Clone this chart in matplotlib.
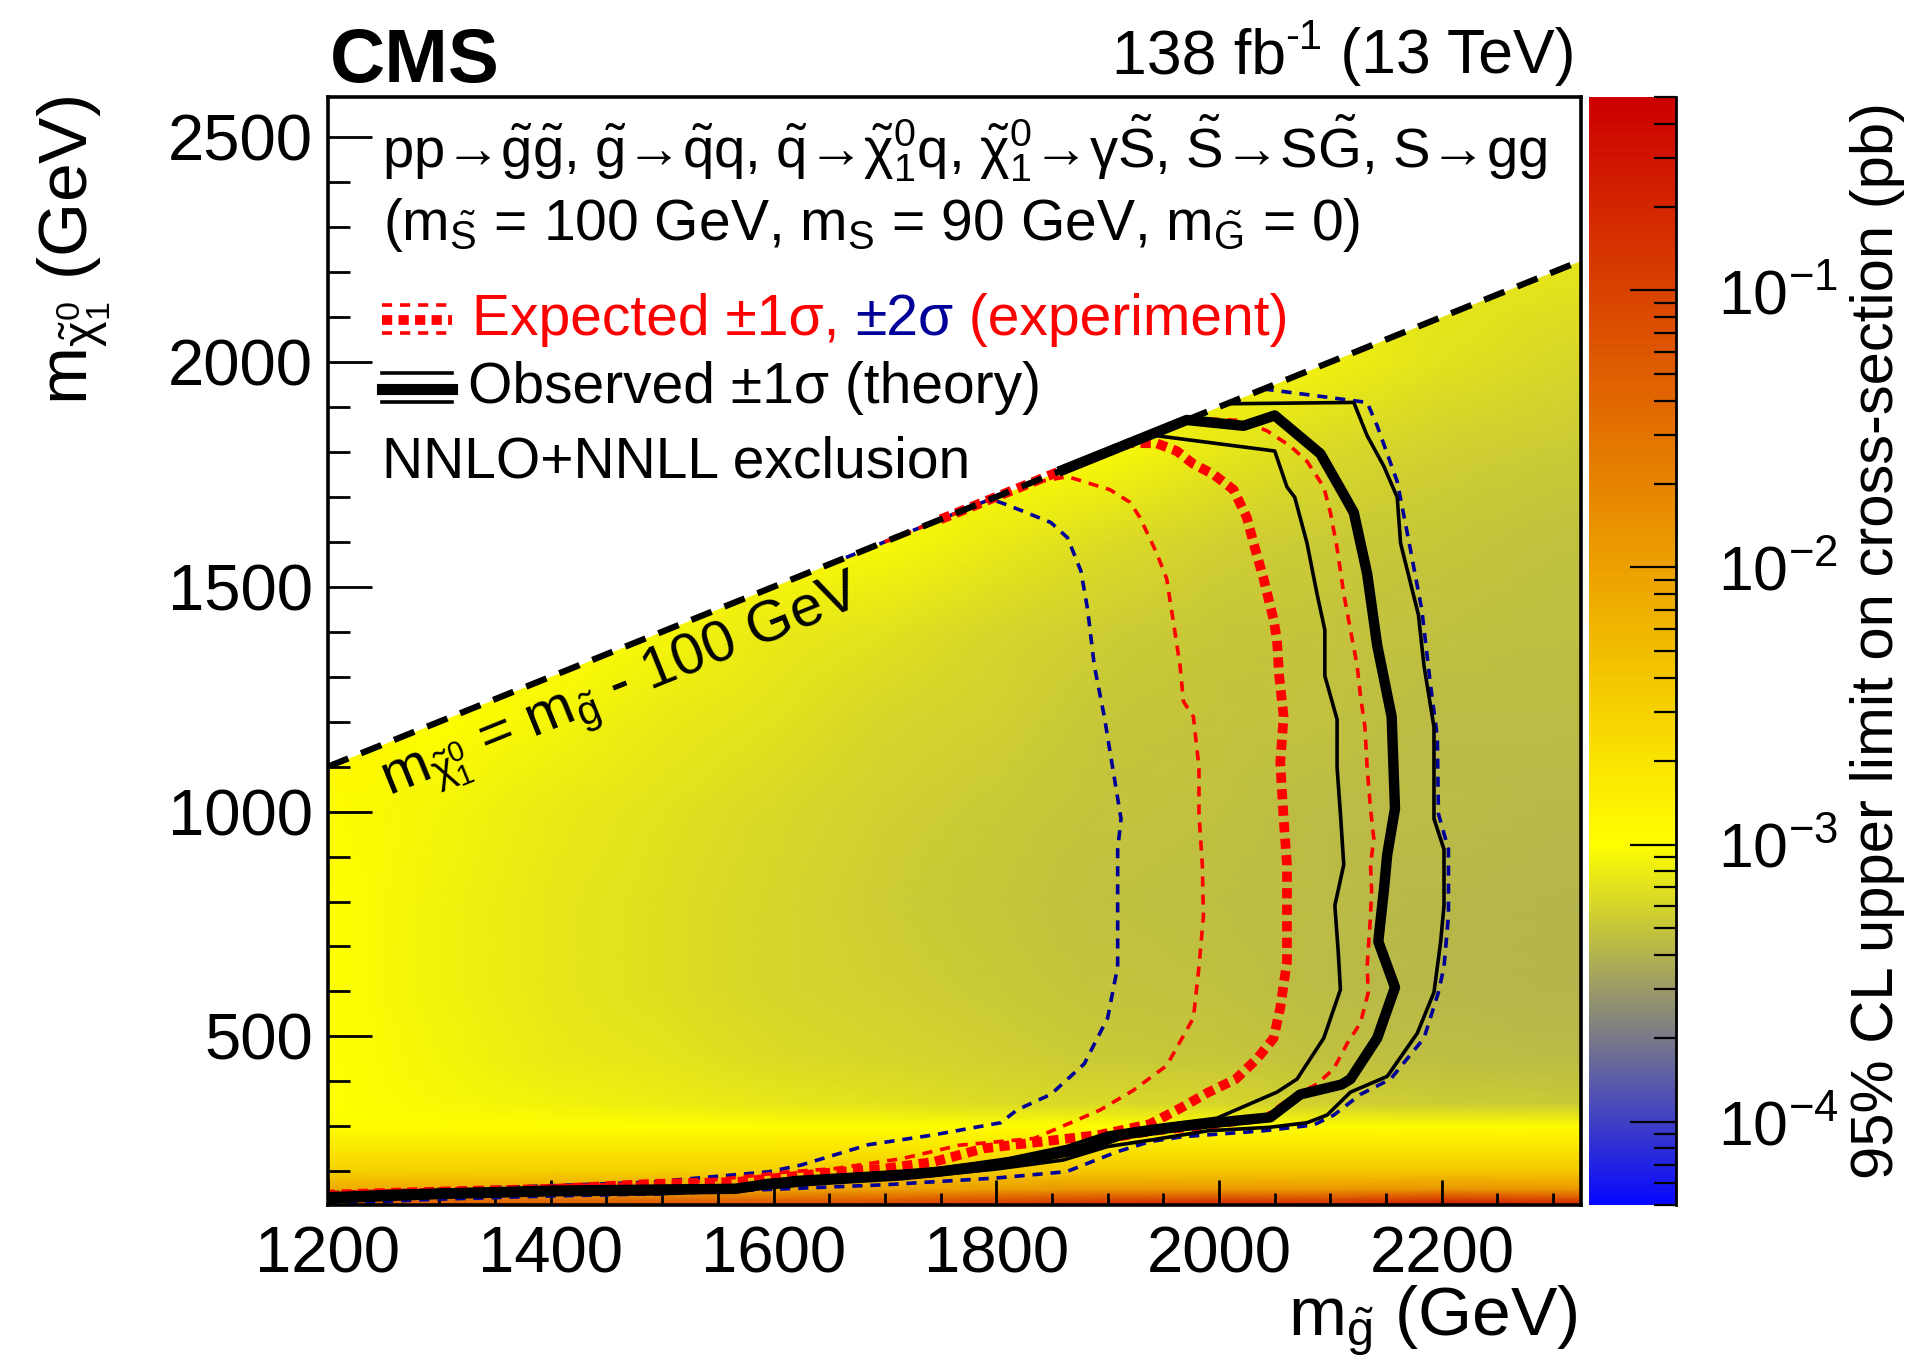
import numpy as np
import matplotlib
matplotlib.use("Agg")
import matplotlib.pyplot as plt
from matplotlib.colors import LinearSegmentedColormap, LogNorm
from matplotlib.patches import Polygon
from matplotlib.lines import Line2D
from matplotlib.ticker import MultipleLocator, LogLocator, NullFormatter

plt.rcParams['font.family'] = ['Liberation Sans', 'DejaVu Sans']
plt.rcParams['mathtext.fontset'] = 'custom'
plt.rcParams['mathtext.rm'] = 'Liberation Sans'
plt.rcParams['mathtext.it'] = 'Liberation Sans'
plt.rcParams['mathtext.sf'] = 'Liberation Sans'
plt.rcParams['mathtext.bf'] = 'Liberation Sans:bold'

W, H = 1917, 1365

def fx(px):
    return px / W

def fy(py):
    return 1 - py / H

# --- axis ranges (GeV) ---
mgl_range = (1200, 2325)
mchi_range = (125, 2590)
dm = 100  # m_chi = m_gluino - 100 GeV

# --- limit map: log10(95% CL upper limit / pb) on a coarse grid ---
mgl_grid = [1200, 1300, 1400, 1500, 1600, 1700, 1800, 1900, 2000, 2100, 2200, 2325]
mchi_grid = [125, 140, 160, 200, 250, 300, 350, 450, 600, 800, 1000, 1200, 1400, 1600, 1800, 2000, 2250]
log_limit = [
    [-1.20, -1.20, -1.20, -1.15, -1.10, -1.00, -0.90, -0.75, -0.70, -0.80, -0.55, -0.75],
    [-1.60, -1.60, -1.60, -1.55, -1.50, -1.40, -1.30, -1.20, -1.15, -1.20, -1.05, -1.20],
    [-2.10, -2.10, -2.10, -2.05, -2.05, -2.00, -1.95, -1.90, -1.90, -1.90, -1.85, -1.90],
    [-2.50, -2.50, -2.50, -2.50, -2.50, -2.45, -2.45, -2.40, -2.40, -2.40, -2.40, -2.40],
    [-2.75, -2.75, -2.75, -2.75, -2.75, -2.72, -2.72, -2.70, -2.70, -2.70, -2.70, -2.70],
    [-2.98, -2.98, -2.98, -2.98, -2.98, -2.98, -2.98, -2.98, -2.98, -2.98, -2.98, -2.98],
    [-3.00, -3.03, -3.06, -3.09, -3.12, -3.15, -3.18, -3.20, -3.22, -3.24, -3.26, -3.28],
    [-3.00, -3.05, -3.10, -3.14, -3.18, -3.22, -3.25, -3.28, -3.30, -3.32, -3.34, -3.36],
    [-3.00, -3.06, -3.12, -3.17, -3.21, -3.25, -3.28, -3.31, -3.33, -3.35, -3.37, -3.38],
    [-3.00, -3.06, -3.12, -3.17, -3.22, -3.26, -3.29, -3.32, -3.34, -3.36, -3.37, -3.38],
    [-2.97, -3.04, -3.10, -3.15, -3.20, -3.24, -3.28, -3.31, -3.33, -3.35, -3.36, -3.37],
    [-2.90, -2.98, -3.05, -3.11, -3.16, -3.21, -3.25, -3.29, -3.31, -3.33, -3.35, -3.36],
    [-2.90, -2.95, -3.00, -3.04, -3.10, -3.16, -3.21, -3.26, -3.29, -3.31, -3.33, -3.34],
    [-2.95, -2.95, -2.95, -2.95, -2.98, -3.02, -3.10, -3.18, -3.24, -3.27, -3.30, -3.32],
    [-3.00, -3.00, -3.00, -3.00, -3.00, -3.00, -3.00, -3.02, -3.12, -3.20, -3.25, -3.28],
    [-3.05, -3.05, -3.05, -3.05, -3.05, -3.05, -3.05, -3.05, -3.05, -3.08, -3.15, -3.22],
    [-3.10, -3.10, -3.10, -3.10, -3.10, -3.10, -3.10, -3.10, -3.10, -3.10, -3.10, -3.12],
]

# --- exclusion contours (m_gluino, m_chi) ---
obs_x = [1860, 1920, 1971, 2022, 2050, 2091, 2112, 2121, 2133, 2142, 2155, 2158, 2151, 2148, 2143, 2158, 2142,
         2118, 2110, 2073, 2046, 1993, 1967, 1912, 1878, 1848, 1796, 1744, 1715, 1640, 1595, 1566, 1402, 1342,
         1253, 1200]
obs_y = [1760, 1820, 1871, 1858, 1881, 1796, 1705, 1665, 1529, 1370, 1211, 1007, 904, 825, 711, 609, 496,
         405, 393, 371, 320, 307, 300, 281, 251, 236, 213, 198, 191, 180, 172, 161, 157, 153, 147, 140]

obs_lo_x = [1938, 1947, 2050, 2061, 2068, 2079, 2088, 2095, 2095, 2106, 2106, 2109, 2112, 2104, 2107, 2109, 2094,
            2070, 2052, 1998, 1940, 1900, 1863, 1811, 1745, 1690, 1620, 1565, 1400, 1300, 1200]
obs_lo_y = [1838, 1835, 1802, 1722, 1699, 1597, 1484, 1404, 1302, 1205, 1098, 995, 882, 791, 689, 604, 496,
            405, 376, 318, 300, 285, 255, 228, 205, 196, 186, 168, 163, 158, 150]

obs_hi_x = [2007, 2121, 2133, 2148, 2160, 2163, 2179, 2184, 2193, 2193, 2202, 2202, 2199, 2193, 2178, 2151, 2118,
            2097, 2079, 2046, 1990, 1940, 1900, 1860, 1800, 1740, 1650, 1580, 1500, 1400, 1300, 1200]
obs_hi_y = [1907, 1910, 1836, 1768, 1699, 1597, 1438, 1325, 1188, 984, 916, 791, 711, 598, 507, 411, 376,
            325, 308, 298, 290, 270, 255, 225, 205, 190, 175, 160, 150, 148, 142, 132]

exp_x = [1750, 1800, 1860, 1920, 1944, 1962, 1977, 1995, 2013, 2025, 2031, 2040, 2049, 2052, 2054, 2058, 2055,
         2058, 2061, 2061, 2061, 2055, 2049, 2034, 2015, 1990, 1965, 1938, 1893, 1841, 1789, 1744, 1700, 1655,
         1610, 1566, 1491, 1402, 1268, 1200]
exp_y = [1650, 1700, 1760, 1820, 1819, 1802, 1773, 1750, 1716, 1654, 1597, 1518, 1427, 1382, 1302, 1211, 1109,
         984, 882, 768, 666, 564, 496, 450, 405, 375, 340, 305, 281, 266, 251, 221, 206, 198, 187, 176, 172,
         161, 153, 148]

exp_lo_x = [1700, 1830, 1864, 1902, 1920, 1929, 1944, 1953, 1958, 1965, 1968, 1977, 1982, 1982, 1985, 1986, 1982,
            1977, 1953, 1923, 1893, 1834, 1767, 1715, 1655, 1610, 1528, 1417, 1268, 1200]
exp_lo_y = [1600, 1730, 1745, 1716, 1688, 1654, 1575, 1518, 1438, 1325, 1245, 1211, 1098, 995, 882, 768, 655,
            541, 435, 380, 336, 273, 258, 228, 206, 198, 176, 168, 157, 152]

exp_hi_x = [1975, 2019, 2043, 2064, 2079, 2094, 2100, 2106, 2112, 2118, 2124, 2127, 2131, 2133, 2136, 2139, 2136,
            2137, 2136, 2133, 2134, 2127, 2115, 2103, 2088, 2064, 2034, 1990, 1940, 1890, 1840, 1790, 1730, 1660,
            1590, 1500, 1400, 1300, 1200]
exp_hi_y = [1875, 1870, 1847, 1813, 1779, 1722, 1665, 1586, 1484, 1404, 1325, 1257, 1188, 1098, 1007, 939, 882,
            825, 768, 655, 598, 530, 484, 428, 394, 363, 311, 296, 283, 262, 230, 210, 195, 183, 170, 160, 155,
            150, 145]

exp2_lo_x = [1650, 1795, 1810, 1849, 1864, 1876, 1882, 1888, 1897, 1906, 1912, 1909, 1909, 1909, 1900, 1879, 1849,
             1819, 1804, 1744, 1685, 1625, 1596, 1491, 1402, 1268, 1200]
exp2_lo_y = [1550, 1695, 1682, 1643, 1609, 1535, 1450, 1325, 1211, 1075, 984, 916, 768, 655, 541, 439, 371,
             337, 308, 281, 259, 214, 199, 176, 168, 157, 152]

exp2_hi_x = [2040, 2133, 2142, 2160, 2169, 2182, 2190, 2196, 2197, 2206, 2206, 2202, 2197, 2184, 2154, 2127, 2103,
             2085, 2040, 1968, 1938, 1908, 1863, 1800, 1700, 1600, 1500, 1400, 1300, 1200]
exp2_hi_y = [1940, 1910, 1858, 1734, 1620, 1450, 1279, 1166, 995, 916, 768, 655, 598, 496, 405, 371, 325,
             303, 290, 277, 266, 243, 199, 185, 170, 160, 150, 145, 138, 128]

cbar_ticks = [1e-4, 1e-3, 1e-2, 1e-1]
cbar_range = (5e-5, 0.5)

RED = '#ff0000'
BLUE = '#000099'
ARROW = '\u2192'

cmap = LinearSegmentedColormap.from_list(
    'cms_limit', [(0.0, (0.03, 0.03, 1.0)), (0.325, (1.0, 1.0, 0.0)), (1.0, (0.8, 0.0, 0.0))])
norm = LogNorm(vmin=cbar_range[0], vmax=cbar_range[1])

fig = plt.figure(figsize=(W / 100, H / 100), dpi=100)
ax = fig.add_axes([fx(328), fy(1205), (1581 - 328) / W, (1205 - 96.7) / H])
ax.set_xlim(*mgl_range)
ax.set_ylim(*mchi_range)

# heat map, clipped to the kinematically allowed triangle
X, Y = np.meshgrid(mgl_grid, mchi_grid)
Z = 10.0 ** np.array(log_limit)
mesh = ax.pcolormesh(X, Y, Z, shading='gouraud', cmap=cmap, norm=norm, zorder=1)
x0, x1 = mgl_range
allowed = Polygon([(x0, mchi_range[0]), (x1, mchi_range[0]), (x1, x1 - dm), (x0, x0 - dm)],
                  closed=True, transform=ax.transData)
mesh.set_clip_path(allowed)

thin = 2.6
dash_thin = (0, (2.8, 2.2))
dash_thick = (0, (1.05, 0.65))
ax.plot(exp2_lo_x, exp2_lo_y, color=BLUE, lw=thin, ls=dash_thin, zorder=3)
ax.plot(exp2_hi_x, exp2_hi_y, color=BLUE, lw=thin, ls=dash_thin, zorder=3)
ax.plot(exp_lo_x, exp_lo_y, color=RED, lw=thin, ls=dash_thin, zorder=4)
ax.plot(exp_hi_x, exp_hi_y, color=RED, lw=thin, ls=dash_thin, zorder=4)
ax.plot(exp_x, exp_y, color=RED, lw=7, ls=dash_thick, zorder=5)
ax.plot(obs_lo_x, obs_lo_y, color='k', lw=thin, zorder=6)
ax.plot(obs_hi_x, obs_hi_y, color='k', lw=thin, zorder=6)
ax.plot(obs_x, obs_y, color='k', lw=7.5, solid_joinstyle='round', zorder=7)

# diagonal m_chi = m_gluino - 100
ax.plot([x0, x1], [x0 - dm, x1 - dm], color='k', lw=4.5, ls=(0, (3.5, 2.2)), zorder=8, clip_on=False)

p0 = ax.transData.transform((x0, x0 - dm))
p1 = ax.transData.transform((x1, x1 - dm))
ang = np.degrees(np.arctan2(p1[1] - p0[1], p1[0] - p0[0]))
ax.text(1255, 1035, r'm$_{\tilde{\chi}^{0}_{1}}$ = m$_{\tilde{g}}$ - 100 GeV', fontsize=42,
        rotation=ang, rotation_mode='anchor', ha='left', va='baseline', zorder=9)

# axes style
for s in ax.spines.values():
    s.set_linewidth(2.6)
    s.set_zorder(10)
ax.xaxis.set_major_locator(MultipleLocator(200))
ax.xaxis.set_minor_locator(MultipleLocator(50))
ax.yaxis.set_major_locator(MultipleLocator(500))
ax.yaxis.set_minor_locator(MultipleLocator(100))
ax.tick_params(axis='x', which='major', direction='in', length=18, width=2, top=False, pad=15, labelsize=47)
ax.tick_params(axis='x', which='minor', direction='in', length=9, width=2, top=False)
ax.tick_params(axis='y', which='major', direction='in', length=32, width=2, right=False, pad=11, labelsize=47)
ax.tick_params(axis='y', which='minor', direction='in', length=16, width=2, right=False)

# colour bar
cax = fig.add_axes([fx(1589), fy(1205), (1676 - 1589) / W, (1205 - 96.7) / H])
cb = fig.colorbar(mesh, cax=cax)
cb.outline.set_visible(False)
cax.plot([1, 1], [0, 1], transform=cax.transAxes, color='k', lw=2, clip_on=False)
cax.yaxis.set_ticks_position('right')
cax.set_yticks(cbar_ticks)
cax.set_yticklabels([r'$10^{%d}$' % int(round(np.log10(t))) for t in cbar_ticks])
cax.yaxis.set_minor_locator(LogLocator(base=10, subs=range(2, 10)))
cax.yaxis.set_minor_formatter(NullFormatter())
cax.tick_params(axis='y', which='major', direction='in', length=33, width=1.6, pad=30, labelsize=45)
cax.tick_params(axis='y', which='minor', direction='in', length=16, width=1.6)

renderer = fig.canvas.get_renderer()


def text_row(x_px, y_px, pieces, align='left'):
    """Place a row of (text, colour, size, raise_px) pieces one after the other."""
    items = []
    for txt, col, size, rise in pieces:
        t = fig.text(0, 0, txt, color=col, fontsize=size, ha='left', va='baseline')
        items.append((t, rise))
    widths = [t.get_window_extent(renderer=renderer).width for t, _ in items]
    x = x_px - (sum(widths) if align == 'right' else 0)
    for (t, rise), w in zip(items, widths):
        t.set_position((fx(x), fy(y_px - rise)))
        x += w


# titles
fig.text(fx(88), fy(96), r'm$_{\tilde{\chi}^{0}_{1}}$ (GeV)', fontsize=50, rotation=90,
         rotation_mode='anchor', ha='right', va='baseline')
fig.text(fx(1578), fy(1335), r'm$_{\tilde{g}}$ (GeV)', fontsize=50, ha='right', va='baseline')
fig.text(fx(1893), fy(102), '95% CL upper limit on cross-section (pb)', fontsize=43, rotation=90,
         rotation_mode='anchor', ha='right', va='baseline')
fig.text(fx(330), fy(82), 'CMS', fontsize=55, fontweight='bold', ha='left', va='baseline')
text_row(1575, 73, [('138 fb', 'k', 45, 0), ('-1', 'k', 30, 24), (' (13 TeV)', 'k', 45, 0)], align='right')

# legend block
LFS = 41
line1 = ('pp' + ARROW + r'$\tilde{g}\tilde{g}$, $\tilde{g}$' + ARROW + r'$\tilde{q}$q, $\tilde{q}$' + ARROW
         + r'$\tilde{\chi}^{0}_{1}$q, $\tilde{\chi}^{0}_{1}$' + ARROW + '\u03b3' + r'$\tilde{S}$, $\tilde{S}$'
         + ARROW + r'S$\tilde{G}$, S' + ARROW + 'gg')
fig.text(fx(382), fy(168), line1, fontsize=40.5, ha='left', va='baseline')
fig.text(fx(383), fy(240),
         r'(m$_{\tilde{S}}$ = 100 GeV, m$_{S}$ = 90 GeV, m$_{\tilde{G}}$ = 0)',
         fontsize=LFS, ha='left', va='baseline')

fig.add_artist(Line2D([fx(382), fx(452)], [fy(305), fy(305)], color=RED, lw=thin, ls=dash_thin))
fig.add_artist(Line2D([fx(382), fx(452)], [fy(333), fy(333)], color=RED, lw=thin, ls=dash_thin))
fig.add_artist(Line2D([fx(382), fx(452)], [fy(320), fy(320)], color=RED, lw=7, ls=dash_thick))
fig.add_artist(Line2D([fx(382), fx(452)], [fy(373), fy(373)], color='k', lw=thin))
fig.add_artist(Line2D([fx(382), fx(452)], [fy(389), fy(389)], color='k', lw=8))
fig.add_artist(Line2D([fx(382), fx(452)], [fy(402), fy(402)], color='k', lw=thin))

text_row(472, 335, [('Expected \u00b11\u03c3, ', RED, LFS, 0), ('\u00b12\u03c3', BLUE, LFS, 0),
                    (' (experiment)', RED, LFS, 0)])
fig.text(fx(468), fy(403), 'Observed \u00b11\u03c3 (theory)', fontsize=LFS, ha='left', va='baseline')
fig.text(fx(382), fy(478), 'NNLO+NNLL exclusion', fontsize=LFS, ha='left', va='baseline')

fig.savefig('out.png', dpi=100)
